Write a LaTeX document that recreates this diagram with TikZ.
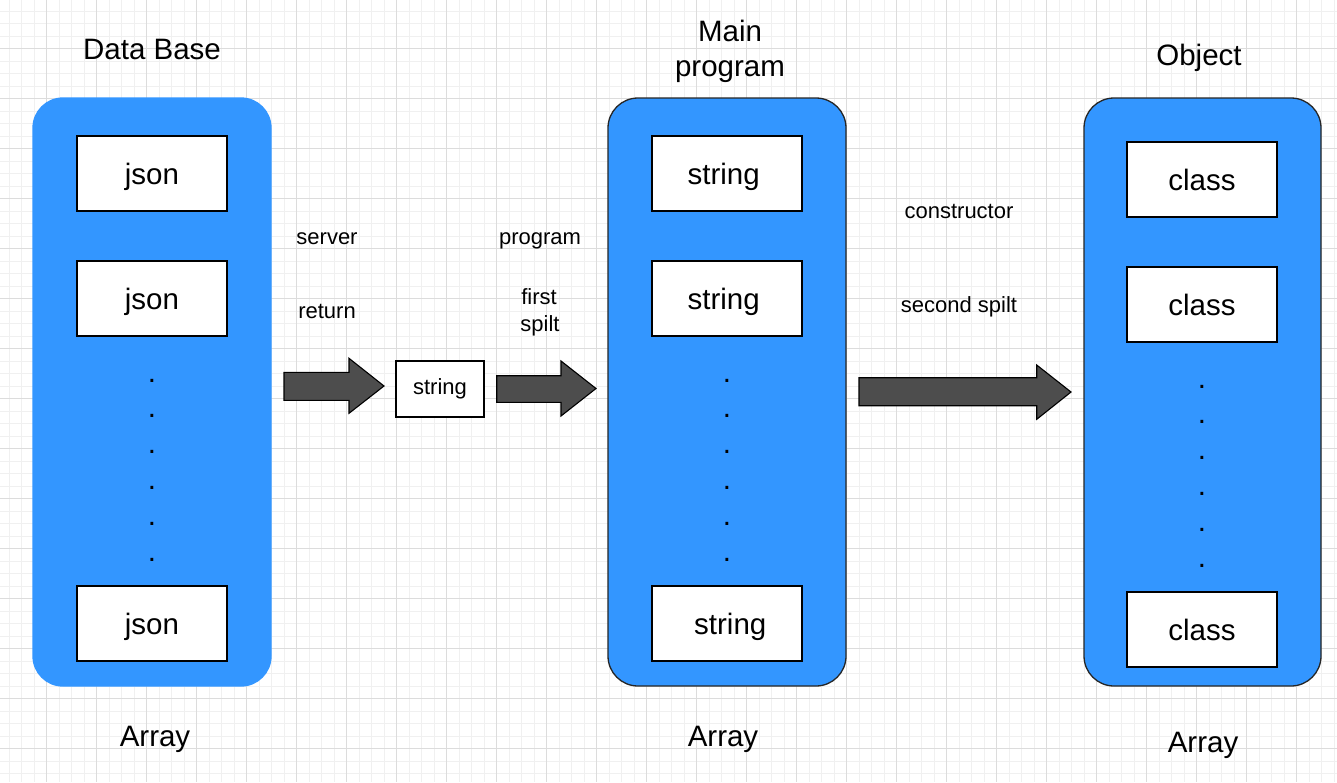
\documentclass[tikz,border=0pt]{standalone}
\usepackage{fontspec}
\setmainfont{Liberation Sans}
\definecolor{cblue}{RGB}{51,150,255}
\definecolor{arrowfill}{RGB}{77,77,77}
\definecolor{gridmajor}{RGB}{220,220,220}
\definecolor{gridminor}{RGB}{240,240,240}
\begin{document}
\begin{tikzpicture}[x=1pt,y=-1pt,
  bigfont/.style={font=\fontsize{29.5}{35.5}\selectfont},
  smallfont/.style={font=\fontsize{22}{27}\selectfont},
  container/.style={draw=black!85, line width=1.3pt, fill=cblue, rounded corners=30pt,
    minimum width=238pt, minimum height=588pt, inner sep=0pt},
  itembox/.style={draw=black, line width=1.2pt, fill=white, minimum width=150pt,
    minimum height=75pt, inner sep=0pt, bigfont, text height=21pt, text depth=0pt},
  smallbox/.style={draw=black, line width=1.1pt, fill=white, minimum width=88pt,
    minimum height=56pt, inner sep=0pt, smallfont, text height=10.6pt, text depth=0pt},
  blockarrow/.style={draw=black, line width=1.1pt, fill=arrowfill, line join=miter},
  dotnode/.style={bigfont, anchor=base, inner sep=0pt},
  label/.style={smallfont, anchor=base, inner sep=0pt},
  title/.style={bigfont, anchor=base, inner sep=0pt}]
\useasboundingbox (0,0) rectangle (1337,782);
\fill[white] (0,0) rectangle (1337,782);
% grid
\foreach \i in {0,...,106} {\draw[gridminor, line width=0.6pt] ({9+12.5*\i},0) -- ({9+12.5*\i},782);}
\foreach \i in {0,...,62} {\draw[gridminor, line width=0.6pt] (0,{10.8+12.5*\i}) -- (1337,{10.8+12.5*\i});}
\foreach \i in {0,...,26} {\draw[gridmajor, line width=0.7pt] ({46.5+50*\i},0) -- ({46.5+50*\i},782);}
\foreach \i in {0,...,15} {\draw[gridmajor, line width=0.7pt] (0,{48.3+50*\i}) -- (1337,{48.3+50*\i});}

% containers
\node[container, draw=cblue] (db) at (152,392) {};
\node[container] (mp) at (727,392) {};
\node[container, minimum width=237pt] (ob) at (1202.5,392) {};

% titles
\node[title] (tdb) at (152,59) {Data Base};
\node[title] (tmp1) at (730,41) {Main};
\node[title] (tmp2) at (730,76.5) {program};
\node[title] (tob) at (1199,65) {Object};
\node[title] (adb) at (155,746) {Array};
\node[title] (amp) at (723,746) {Array};
\node[title] (aob) at (1203,752.7) {Array};

% items
\node[itembox] (j1) at (152,173.5) {json};
\node[itembox] (j2) at (152,298.5) {json};
\node[itembox] (j3) at (152,623.5) {json};
\node[itembox] (s1) at (727,173.5) {string\hphantom{i}};
\node[itembox] (s2) at (727,298.5) {string\hphantom{i}};
\node[itembox] (s3) at (727,623.5) {\hphantom{i}string};
\node[itembox] (c1) at (1202,179.5) {class};
\node[itembox] (c2) at (1202,304.5) {class};
\node[itembox] (c3) at (1202,629.5) {class};

% dots
\foreach \y [count=\k] in {378,413.8,449.6,485.4,521.2,557} {
  \node[dotnode] (ddb\k) at (152,{\y+4}) {.};
  \node[dotnode] (dmp\k) at (727,{\y+4}) {.};
  \node[dotnode] (dob\k) at (1202,{\y+10}) {.};
}

% middle string box
\node[smallbox] (ms) at (440,389) {string};

% block arrows
\draw[blockarrow] (284,372.3) -- (349,372.3) -- (349,358.3) -- (384,386) -- (349,413.3) -- (349,400.3) -- (284,400.3) -- cycle;
\draw[blockarrow] (496.7,375.7) -- (561,375.7) -- (561,361) -- (596,388.5) -- (561,416) -- (561,402.3) -- (496.7,402.3) -- cycle;
\draw[blockarrow] (859,377.7) -- (1036.7,377.7) -- (1036.7,365) -- (1071,392) -- (1036.7,419.3) -- (1036.7,405.7) -- (859,405.7) -- cycle;

% labels
\node[label] (lserver) at (327,244.3) {server};
\node[label] (lreturn) at (327,318.3) {return};
\node[label] (lprogram) at (540,244.3) {program};
\node[label] (lfirst) at (539,304.3) {first};
\node[label] (lspilt) at (540,331.7) {spilt};
\node[label] (lcons) at (959,218.3) {constructor};
\node[label] (lsecond) at (959,312.7) {second spilt};
\end{tikzpicture}
\end{document}
